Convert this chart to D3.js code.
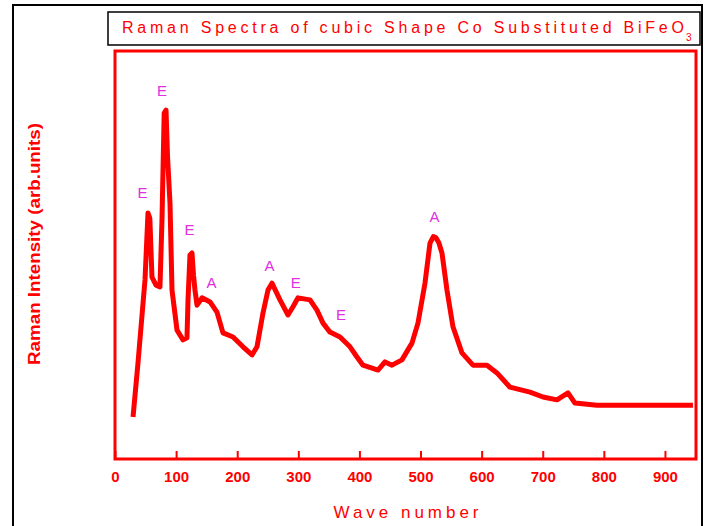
<!DOCTYPE html>
<html>
<head>
<meta charset="utf-8">
<script src="https://cdn.jsdelivr.net/npm/d3@7"></script>
<style>
  body { margin: 0; background: white; }
  text { font-family: "Liberation Sans", Arial, sans-serif; }
</style>
</head>
<body>
<svg id="chart" width="706" height="526"></svg>
<script>
// wave number of each reading
const waveNumbers = [29.5, 37.6, 49.1, 54.0, 57.0, 60.5, 67.1, 73.6, 76.9, 80.5, 83.5, 86.0, 90.0, 93.3, 101.5,
  111.3, 117.8, 119.5, 122.7, 126.0, 128.5, 130.9, 134.2, 142.4, 155.5, 166.9, 176.7, 193.1, 209.5, 224.2,
  232.4, 242.2, 250.4, 256.9, 270.0, 283.1, 291.3, 299.5, 319.1, 330.5, 340.4, 351.8, 368.2, 384.6,
  396.0, 405.8, 430.4, 441.8, 453.3, 469.6, 486.0, 495.8, 507.3, 515.5, 521.0, 525.3, 530.0, 535.1, 543.3, 553.1,
  567.8, 585.8, 608.7, 625.1, 646.4, 679.1, 700.4, 723.3, 741.3, 752.7, 788.7, 896.7, 945.8];
// raman intensity (arb. units)
const intensity = [10.3, 23.5, 43.9, 60.3, 59.0, 44.6, 42.6, 42.2, 58.6, 84.8, 85.5, 74.0, 62.7, 41.4, 31.6,
  29.2, 29.7, 39.0, 50.0, 50.5, 45.0, 41.4, 37.7, 39.5, 38.5, 36.0, 30.9, 29.9, 27.5, 25.5,
  27.5, 35.8, 41.4, 43.1, 39.0, 35.3, 37.3, 39.5, 39.0, 36.5, 33.3, 31.1, 29.9, 27.5,
  25.0, 23.0, 21.8, 23.8, 23.0, 24.3, 28.4, 33.3, 43.1, 52.9, 54.5, 54.2, 53.0, 50.5, 41.4, 32.4,
  26.0, 23.0, 23.0, 21.1, 17.6, 16.4, 15.2, 14.5, 16.2, 13.7, 13.2, 13.2, 13.2];
// mode labels over the peaks
const peakLabels = ["E", "E", "E", "A", "A", "E", "E", "A"];
const peakWave = [45, 77, 122, 158, 253, 296, 370, 523];
const peakLevel = [64, 89, 55, 42, 46, 42, 34, 58];
const xTicks = [0, 100, 200, 300, 400, 500, 600, 700, 800, 900];

const svg = d3.select("svg#chart");
const x = d3.scaleLinear().domain([0, 950]).range([115, 695.5]);
const y = d3.scaleLinear().domain([0, 100]).range([459, 51]);

//outer frame and title box
svg.append("rect").attr("x", 13).attr("y", 5).attr("width", 689).attr("height", 540)
  .attr("fill", "none").attr("stroke", "black").attr("stroke-width", 2);
svg.append("rect").attr("x", 108).attr("y", 12).attr("width", 592).attr("height", 33)
  .attr("fill", "none").attr("stroke", "black").attr("stroke-width", 1.5);
svg.append("text").attr("x", 122).attr("y", 33).attr("textLength", 562).attr("lengthAdjust", "spacing")
  .style("font-size", "16px").style("fill", "red")
  .text("Raman Spectra of cubic Shape Co Substituted BiFeO");
svg.append("text").attr("x", 686).attr("y", 41).style("font-size", "10px").style("fill", "red").text("3");

//x axis with inward ticks
const xAxis = svg.append("g").attr("transform", "translate(0,459)")
  .call(d3.axisBottom(x).tickValues(xTicks).tickSize(-8).tickSizeOuter(0).tickPadding(12));
xAxis.select(".domain").remove();
xAxis.selectAll(".tick line").attr("stroke", "red").attr("stroke-width", 2);
xAxis.selectAll(".tick text").attr("fill", "red")
  .style("font-size", "15px").style("font-weight", "bold").style("font-family", "Liberation Sans, Arial, sans-serif");

//plot frame
svg.append("rect").attr("x", 115).attr("y", 51).attr("width", 581).attr("height", 408)
  .attr("fill", "none").attr("stroke", "red").attr("stroke-width", 3);

//axis titles
svg.append("text").attr("x", 406).attr("y", 518).attr("text-anchor", "middle")
  .attr("textLength", 145).attr("lengthAdjust", "spacing")
  .style("font-size", "17px").style("fill", "red").text("Wave number");
svg.append("text").attr("transform", "translate(40,244) rotate(-90)").attr("text-anchor", "middle")
  .attr("textLength", 242).attr("lengthAdjust", "spacingAndGlyphs")
  .style("font-size", "17px").style("font-weight", "bold").style("fill", "red")
  .text("Raman Intensity (arb.units)");

//spectrum
const points = waveNumbers.map((w, i) => [w, intensity[i]]);
const line = d3.line().x(d => x(d[0])).y(d => y(d[1]));
svg.append("path").datum(points).attr("d", line)
  .attr("fill", "none").attr("stroke", "red").attr("stroke-width", 5).attr("stroke-linejoin", "round");

//peak labels
peakLabels.forEach(function(t, i){
  svg.append("text").attr("x", x(peakWave[i])).attr("y", y(peakLevel[i])).attr("text-anchor", "middle")
    .style("font-size", "15px").style("fill", "#e030e0").text(t);
});
</script>
</body>
</html>
